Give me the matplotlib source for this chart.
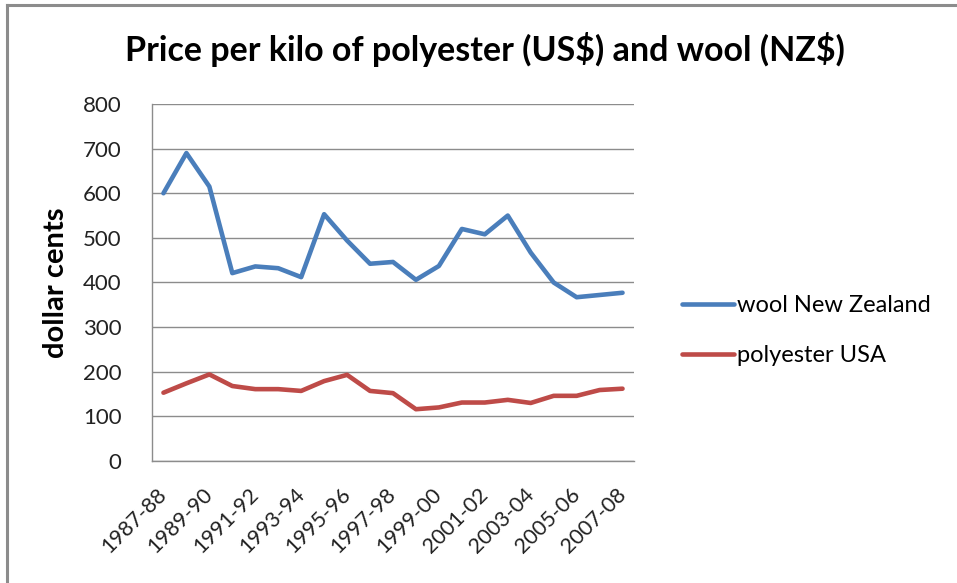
import matplotlib.pyplot as plt
import matplotlib.transforms as mtransforms
from matplotlib.lines import Line2D

seasons = ["1987-88", "1988-89", "1989-90", "1990-91", "1991-92", "1992-93", "1993-94",
           "1994-95", "1995-96", "1996-97", "1997-98", "1998-99", "1999-00", "2000-01",
           "2001-02", "2002-03", "2003-04", "2004-05", "2005-06", "2006-07", "2007-08"]
wool_nz = [600, 690, 615, 421, 436, 432, 412, 553, 494, 442, 446, 406, 437, 520,
           508, 550, 467, 400, 367, 372, 377]
polyester_usa = [153, 174, 194, 168, 161, 161, 157, 179, 193, 157, 152, 116, 120, 131,
                 131, 137, 130, 146, 146, 159, 162]

plt.rcParams['font.family'] = ['Lato', 'DejaVu Sans']

fig = plt.figure(figsize=(9.57, 5.83), dpi=100)
ax = fig.add_axes([0.1588, 0.2093, 0.5037, 0.6123])

x = range(len(seasons))
ax.plot(x, wool_nz, color='#4A7EBB', lw=3.3, label='wool New Zealand',
        solid_joinstyle='round', solid_capstyle='round')
ax.plot(x, polyester_usa, color='#BE4B48', lw=3.3, label='polyester USA',
        solid_joinstyle='round', solid_capstyle='round')

ax.set_xlim(-0.5, len(seasons) - 0.5)
ax.set_ylim(0, 800)
ax.set_yticks(range(0, 801, 100))
ax.set_xticks(list(x)[::2])
ax.set_xticklabels(seasons[::2], rotation=45, ha='right', va='center',
                   rotation_mode='anchor', fontsize=15.5, color='#222222')
shift = mtransforms.ScaledTranslation(-7 / 100, 0, fig.dpi_scale_trans)
for lab in ax.get_xticklabels():
    lab.set_transform(lab.get_transform() + shift)
ax.tick_params(axis='y', labelsize=16, labelcolor='#222222', length=0, pad=22)
ax.tick_params(axis='x', length=0, pad=22)
ax.grid(axis='y', color='#8C8C8C', lw=1)
ax.set_axisbelow(True)
for s in ['top', 'right']:
    ax.spines[s].set_visible(False)
for s in ['left', 'bottom']:
    ax.spines[s].set_color('#8C8C8C')
    ax.spines[s].set_linewidth(1)

ax.set_ylabel('dollar cents', fontsize=21, fontweight='bold', labelpad=10)
fig.text(0.507, 0.915, r'Price per kilo of polyester (US\$) and wool (NZ\$)',
         ha='center', va='center', fontsize=24.5, fontweight='bold')

ax.legend(loc='center left', bbox_to_anchor=(1.055, 0.365), frameon=False,
          fontsize=17, handlelength=2.2, handletextpad=0.15, labelspacing=1.25)

# chart frame (top and left edge)
fig.add_artist(Line2D([0.0068, 1.0], [0.9914, 0.9914], color='#8C8C8C', lw=2.2))
fig.add_artist(Line2D([0.0068, 0.0068], [0.0, 0.9914], color='#8C8C8C', lw=2.2))

fig.savefig('out.png', dpi=100)
